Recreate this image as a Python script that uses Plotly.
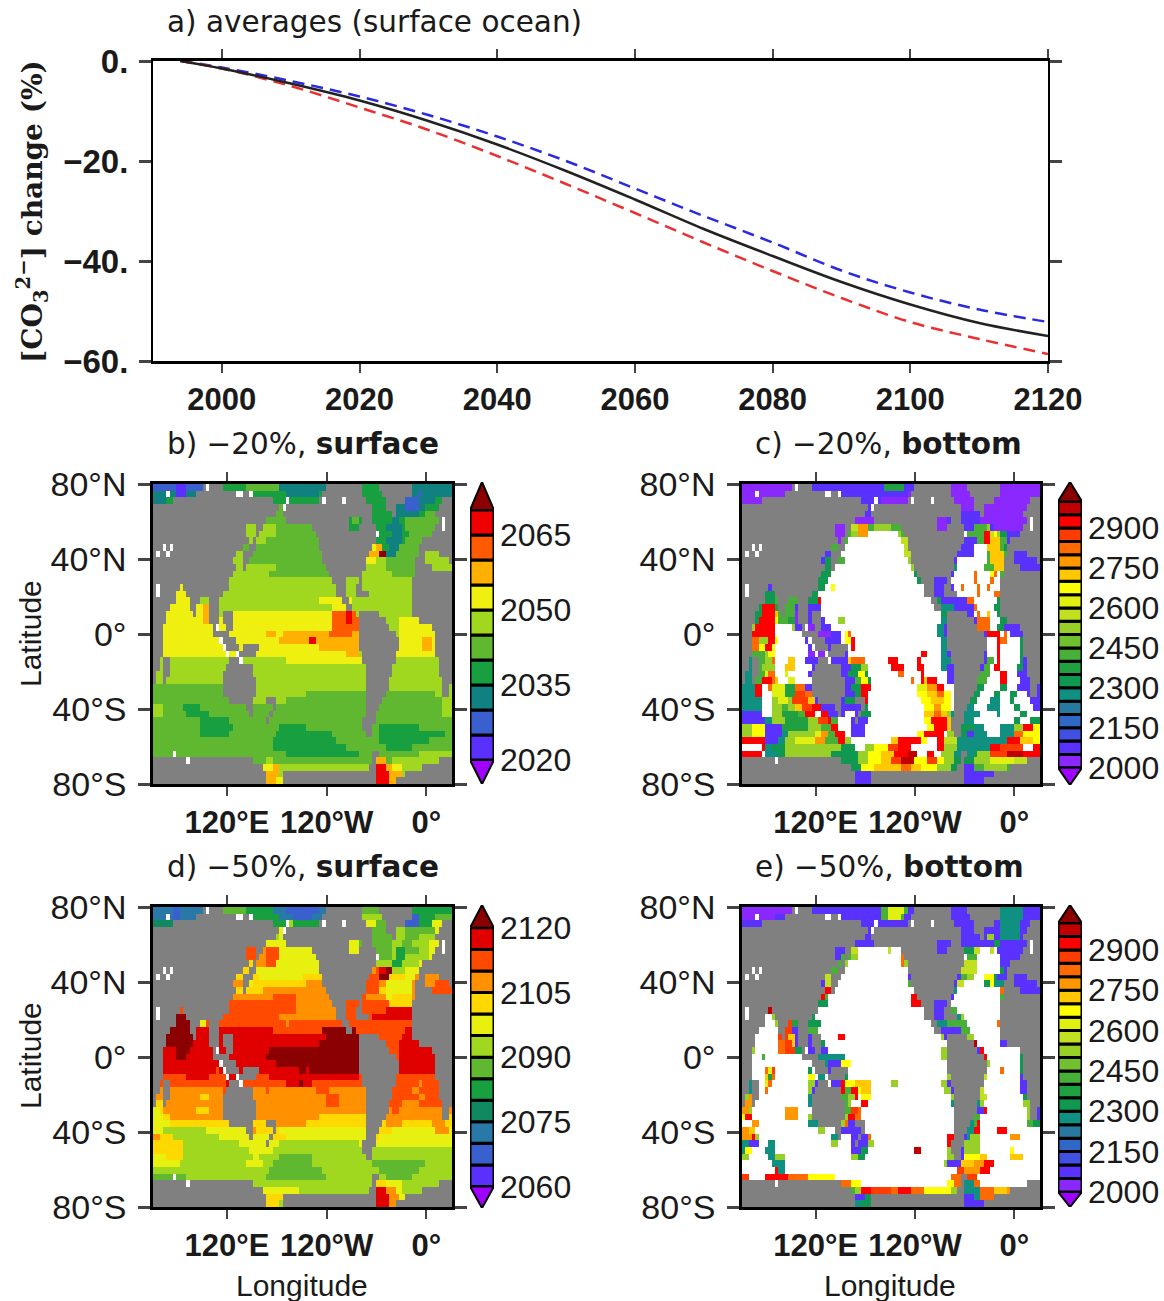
import numpy as np
import plotly.graph_objects as go

W, H = 1164, 1301

# ---------- panel a ----------
YEARS = [1994, 2000, 2010, 2020, 2030, 2040, 2050, 2060, 2070, 2080, 2090, 2100, 2110, 2120]
MEAN = [0, -1.5, -4.5, -7.9, -12.0, -16.7, -22.0, -27.7, -33.6, -39.0, -44.2, -48.7, -52.4, -55.0]
HIGH = [0, -1.3, -4.0, -7.1, -10.8, -15.1, -20.0, -25.5, -31.0, -36.3, -41.9, -46.3, -49.7, -52.2]
LOW = [0, -1.5, -5.0, -9.3, -13.8, -19.0, -24.6, -30.4, -36.3, -42.0, -47.4, -52.2, -55.6, -58.6]

# ---------- land mask: (ocean up to column, land up to column) per row, 90 columns x 45 rows ----------
LAND = [
 [(15,21),(52,63),(68,78)], [(13,29),(51,63),(69,78)], [(6,36),(50,64),(70,76),(87,90)],
 [(0,38),(40,66),(70,73),(86,90)], [(0,37),(39,66),(72,73),(85,90)], [(0,34),(40,59),(63,66),(86,90)],
 [(0,28),(31,33),(48,59),(62,67),(85,90)], [(0,28),(31,32),(49,68),(84,90)], [(0,29),(30,31),(50,67),(81,90)],
 [(0,27),(29,31),(50,66),(80,90)], [(0,25),(27,30),(51,65),(80,82),(86,90)], [(0,24),(27,29),(51,64),(79,82),(89,90)],
 [(0,25),(27,28),(52,64),(79,84)], [(0,24),(53,63),(79,90)], [(0,23),(54,58),(62,63),(78,90)],
 [(0,8),(9,23),(55,58),(61,63),(78,90)], [(0,7),(10,21),(55,58),(61,65),(78,90)],
 [(0,7),(11,14),(17,20),(57,59),(78,90)], [(0,5),(11,13),(17,20),(58,60),(78,90)],
 [(0,4),(12,13),(17,20),(21,24),(62,68),(78,90)], [(0,4),(17,20),(21,24),(62,70),(80,90)],
 [(0,3),(18,20),(22,24),(62,71),(84,90)], [(0,3),(18,23),(62,73),(85,90)], [(0,3),(20,25),(62,74),(85,90)],
 [(0,3),(21,26),(27,32),(62,74),(85,90)], [(0,3),(26,31),(63,73),(85,90)], [(0,2),(3,5),(23,27),(63,73),(86,90)],
 [(0,2),(3,5),(22,30),(64,72),(86,90)], [(0,1),(3,5),(21,30),(64,72),(86,90)], [(0,1),(3,4),(21,31),(64,71),(87,90)],
 [(21,31),(64,71),(87,89)], [(21,31),(64,70),(87,89)], [(23,30),(34,37),(64,69)], [(28,30),(36,37),(64,68)],
 [(29,30),(35,36),(64,67)], [(34,35),(63,67)], [(63,66)], [(64,66)], [], [], [(66,68)],
 [(0,30),(66,67),(86,90)], [(0,33),(65,67),(81,90)], [(0,34),(39,67),(76,90)], [(0,34),(39,67),(73,90)],
]
SPECKS = [(0,16),(1,4),(1,25),(1,26),(1,29),(2,40),(2,51),(2,57),(3,39),(5,87),(6,87),(7,67),(9,3),(9,5),(10,1),(10,4),
          (15,1),(16,1),(21,19),(23,20),(24,21),(25,22),(25,25),(26,26),(40,6),(41,10)]

# ---------- b) -20 %, surface: level code up to column ----------
FIELD_B = [
 "b7 a10 b15 d28 e38 c52 d68 d78 c90","c7 a10 c15 e30 d40 c50 d70 c80 b81 c90","c4 d50 d65 d70 c76 b80 c85 d90",
 "e50 d72 c76 b80 c82 d86 e90","e50 d73 c80 d82 e90","e30 e40 e59 d60 e62 d66 d72 c74 d76 e90",
 "f31 f33 f37 e50 d65 d70 c75 d76 e90","f31 f37 e50 d68 d72 c75 d77 e90","f31 f34 e50 e67 d70 c75 d76 e90",
 "f27 e50 e66 g67 h69 d71 c74 e90","f29 e51 g65 h68 k70 c73 e80 f90","f29 e52 g67 f70 e79 f90",
 "f29 f37 e53 f70 e79 f90","f35 e53 f72 e79 f90","f90","g9 f90","g10 f90","g11 f20 f50 g60 f90",
 "g15 h17 f54 g60 f90","g15 h17 f23 g54 i58 j60 i61 f90","g15 h17 g54 i58 j60 i62 f74 g90","g54 i60 i62 f74 g90",
 "g34 h37 g39 h53 i60 h62 f74 g90","g38 h47 j49 h62 f73 g81 h84 g90","g50 h62 f73 g81 h84 g90","g58 h62 f73 g85 f90",
 "f40 g64 f90","f90","f90","f90","e21 f90","e21 f46 e64 e70 e85 f90","e30 f40 e87 f90","f3 e9 d14 e87 f90",
 "f3 e10 d17 e87 f90","e14 d23 e90","e14 d24 e38 d46 e68 d80 e90","e14 d23 e37 d54 e68 d88 e90","e36 d55 e68 d83 e90",
 "e36 d58 e70 d78 e90","e40 d62 e80 f90","e34 f36 e62 e66 h70 e72 f78 f90","f33 g36 h38 f66 j70 h72 g75 f90",
 "f33 h38 f66 j71 h75 f90","f33 g34 h37 g39 g66 j71 h73 f90",
]

# ---------- d) -50 %, surface ----------
FIELD_D = [
 "c6 b8 c15 f28 e36 c40 b50 c52 f68 g78 e90","c6 b8 c15 f30 e38 c42 b48 c52 g70 f78 b80 e85 f90",
 "d6 e40 g42 e50 g64 h67 f72 g76 b80 e84 h88 h90","g38 h42 g60 f70 f72 g76 f85 h90","g38 h42 g59 h62 g64 f73 g76 f80 g85 h90",
 "h35 h42 h59 h62 f72 g75 f78 g83 h90","k31 j34 k38 h48 h62 f72 g73 e76 f80 g83 h90","k31 j34 k38 h50 h59 f72 g73 e76 g83 h90",
 "i31 j34 k37 h50 h67 g72 e75 g80 h90","i30 h50 j67 k68 l70 m72 g76 h90","i27 i32 h45 i52 j65 k68 m71 i76 h79 j88 k90",
 "j27 h30 i46 j52 j64 k68 j70 h72 h78 j85 k90","j25 i33 j47 j52 k68 i70 h78 j83 k90","j36 k43 j53 k64 j70 h72 i78 j90",
 "k43 j58 k64 k71 i78 j90","k43 j58 k70 l78 j90","m10 l20 k38 j55 k61 k66 l78 j90","l7 m11 k13 h16 k20 k40 j41 k60 k66 k78 j90",
 "l5 m11 l20 l36 k51 m61 k63 k76 l80 k90","k3 m12 l20 l52 m62 k70 k75 l84 j90","k3 m12 l20 l50 m62 k70 k74 l84 k88 j90",
 "k3 l7 m11 l22 l35 m62 k70 k74 l84 l88 j90","k3 l7 m10 l24 l34 m62 k74 l86 m87 j90","k3 l25 l37 m62 k74 l85 m87 j90",
 "k3 l19 k20 l24 l31 k32 l44 m46 l47 m62 k74 l85 m86 j90","k10 l17 k22 l27 k32 k35 l40 l62 k90",
 "k22 l26 k33 k40 l44 m45 l48 k52 k62 k64 k80 j81 k90","j21 k23 j34 k35 j49 k53 j64 k78 j80 k88 j90",
 "i1 j14 i17 j21 j34 j52 k56 j64 k80 j82 k88 j90","h1 i3 j21 j52 k56 j64 k75 j80 k88 j90","h2 i3 j13 i17 j21 j64 j72 k74 j90",
 "h3 i5 j21 i30 j50 i64 i70 j87 i90","h5 i23 h30 i37 j46 i64 i70 j75 i84 j88 i90","h3 g16 h30 j31 i38 h64 h68 i72 h85 j89 h90",
 "j2 i6 g16 g20 h35 i40 h66 i68 h90","i9 g26 h38 g62 h66 h90","i9 g29 h36 g90","h4 i9 g30 h32 g38 f48 g90",
 "h8 g28 h33 g36 f48 g66 f82 g90","g35 f51 g68 f80 g90","f10 g34 f52 g70 f78 g90","g35 g66 i70 h75 g90",
 "g33 h44 g66 l70 j73 h75 g84 h90","h34 i42 h66 l71 j74 h78 h90","h34 i38 g66 l71 j73 h90",
]

# ---------- c) -20 %, bottom ('.' = above the data range, white) ----------
FIELD_C = [
 "a15 b43 h49 b52 a78 a90","a14 b50 a90","a7 b42 a50 a90","a7 b40 b66 a72 b73 a90","b39 a59 a66 b72 a90","a40 a62 b72 a90",
 "a31 i33 l35 p38 i40 k45 i49 f50 a66 b70 i74 k75 b76 a90","a32 i33 k35 p38 .47 k48 i50 b68 i73 s75 l76 n77 k78 g80 b85 a90",
 "a30 i32 .48 l50 b67 b71 i73 s75 o78 i80 b82 a90","b27 i30 .49 l50 b66 b70 .74 o78 i79 g80 a90","b27 i30 .49 l51 b66 b70 .74 i75 o79 i80 b90",
 "b25 g29 i31 .50 k52 b65 .74 i75 o79 f80 b90","b24 g28 .51 k52 g53 f65 .73 i76 o79 f80 b90",
 "b23 g27 .52 g54 b64 .70 q71 .75 n76 q77 .78 i79 g80 b90","b23 g26 .53 g55 a58 b63 .70 q71 .75 q76 .78 i80 a90",
 "b9 g10 b22 g25 .27 n28 .55 g56 b60 b64 .66 q67 .71 q72 .74 q75 .78 i79 g80 a90","g11 g22 g23 .55 g57 b64 .67 .71 q72 .76 q78 g90",
 "g8 g10 i12 i14 i17 b20 g23 s24 .59 g60 b68 q70 .77 q77 g78 b90","g6 s10 h12 i16 b24 .59 g60 f64 b70 q71 .74 q74 .76 g78 b80 a90",
 "g6 s10 o11 i13 i16 a18 b22 .60 g62 b70 .71 q72 .74 o75 .77 q77 g78 b80 a90",
 "g5 s10 n11 i14 h16 a20 b25 .29 k31 .60 f62 b71 q75 .78 g80 a90","k4 s10 .15 k16 b19 a24 b27 .59 f61 b70 q75 .77 g79 b90",
 "f3 s10 .15 .19 b23 a27 b30 .31 n32 q33 .59 f61 b74 s78 .79 q80 .81 b90","f3 q5 k8 s10 n11 .19 b30 .31 n33 s34 .60 f62 b74 .77 s78 q80 .84 g85 b90",
 "f3 q5 n7 s9 n10 .20 b30 .33 s34 .60 f62 b74 .77 s78 .84 g85 b90","f3 i7 k8 n10 .20 a30 b32 .54 s56 .60 f62 b74 .77 s78 .84 g85 b90",
 "f3 i7 k9 q10 .14 o16 .19 b32 o33 q37 .44 s47 .53 s54 .60 f63 b74 i76 .77 s78 .84 g85 b90",
 "f3 i6 k10 .13 o16 .21 b33 g36 k38 .45 s49 .53 s55 .60 f62 b73 i75 .76 s78 .83 g85 b90",
 "f3 i7 m8 q10 .13 m14 .20 b32 g35 n37 g38 .47 q49 .54 s55 .62 b72 i75 .78 s80 .83 b90",
 "f3 i6 s9 q10 o11 .14 m16 .21 b34 i36 n38 g39 .51 q52 .54 s55 o56 s59 .62 b70 i74 .78 s80 .84 b90",
 "f4 s6 .8 q9 m13 h16 q19 b33 g36 s39 .53 m56 p59 s61 .64 b70 g73 .78 g80 .83 b90",
 "f4 s6 .9 m13 h16 r19 q21 b34 g36 s38 .53 n56 o59 q61 n63 .64 b68 g72 .76 g78 .81 g83 .86 b90",
 "f6 .9 k11 m14 k15 r20 o22 b31 g36 s38 .54 n57 o61 n63 .64 b68 g71 .75 f78 .81 g82 .87 b90",
 "f6 .9 k12 i14 k16 o18 r21 s24 b36 g38 .55 n58 p60 n63 .64 g68 f70 .74 f78 .82 g84 .88 b90",
 "b6 .9 k12 h17 i19 s22 .24 s26 b31 .34 b36 g39 .55 o58 q60 o62 k63 f72 .77 f78 .84 g86 .90",
 "b7 f9 k13 h20 k23 r26 s27 i29 .33 b38 .55 n57 s62 o63 i64 f70 .82 g84 .87 g90",
 "k3 n7 b12 h20 k24 i27 s29 .33 b37 .56 n58 s62 o64 k66 g70 f73 .78 f82 k85 s88 n90",
 "k3 n7 b12 f14 k18 k22 m24 p26 i28 s31 .33 b37 .53 n55 s61 .62 k65 g68 b70 f74 .78 f82 q85 n90",
 "s7 b11 f13 k16 m22 p25 i29 s31 k33 .45 o47 s54 n56 .59 s61 l65 f80 s84 o88 n90",
 ".6 s7 f9 g13 k27 k30 g34 .37 k40 n44 r47 s51 .56 .59 s61 k65 f75 s78 r85 .88 s90",
 "s7 f11 g13 k27 g35 k38 n42 o46 s50 t53 .56 s58 .60 k64 f70 g71 k75 r80 t85 s90",
 "i30 g35 k38 n42 o45 r48 t52 n56 r59 n61 k64 g70 k75 m82 l90","g36 n40 o48 q51 o54 n59 k63 g66 b70 i73 k80 i90","b90","b90",
]

# ---------- e) -50 %, bottom ----------
FIELD_E = [
 "a15 b42 i44 m49 i50 b78 f85 b90","a10 b42 i44 m48 i49 b78 f85 b90","b78 f84 b90","b78 f84 b90","b74 k76 b78 f84 b90","b76 g78 b90",
 "b32 i33 l35 .44 l45 .48 k49 b66 g70 l72 .75 l76 .77 b90","b30 i33 k35 .48 q49 .50 b66 i71 .78 b90","i30 k32 .48 q49 k50 b67 l71 .78 b90",
 "b27 i30 .50 q51 b66 l71 .78 g79 b90","b25 l27 s29 .50 b66 i68 k70 .73 n76 g77 b90","b25 l27 s29 .50 i52 b65 l67 .73 g75 n76 f79 b90",
 "b24 s27 .52 g53 f65 .78 q79 b90","b23 s25 i26 .51 s53 b64 .78 i79 b90","b23 g26 .51 s54 b63 .78 i80 b90",
 "t9 i23 .55 q56 b63 i65 .78 q79 b90",".9 k14 g22 .56 q57 b61 f66 k67 .78 k79 b90",".10 k13 r15 h17 b20 g24 .58 f62 i68 .77 q78 b90",
 ".11 r15 b20 i23 .59 b66 i69 .78 q79 b90",".11 r14 o16 b21 g23 .29 s31 .60 k61 b64 f68 k70 .78 q79 b90",
 ".11 q13 r15 o16 b21 g25 .62 k65 b70 t71 .78 b90","k4 .11 q13 r16 g20 b26 .60 k64 b72 s73 .84 g85 b90",
 "k3 .6 i7 .20 g22 f27 f31 .60 k63 b72 s74 .84 g86 b90","k3 .20 g22 f26 b30 n33 .62 k64 b73 k75 .84 g86 b90",
 "k3 .7 q8 m9 r10 .20 g22 f26 b31 .62 k64 b72 i74 .78 q79 .84 g86 b90","k3 .7 o8 h9 q10 .20 n22 f26 b31 g32 .62 k65 b72 l74 .84 b90",
 "f3 l4 .7 m8 q9 .20 k22 b30 s31 n34 o39 .45 k47 .60 k62 b71 l73 .84 b90","f3 k4 .7 q8 .20 k21 b30 s31 i33 s35 n36 o39 .61 k63 b71 l73 .84 b90",
 "k2 p3 i4 .20 f24 b30 i32 k34 s35 .36 n39 .63 k65 b72 l74 .85 g87 b90","l1 p3 .20 f24 b30 i32 k33 .36 s38 .63 f72 k73 .85 k88 b90",
 "p2 k3 .13 p17 .21 f31 i33 r35 q36 .64 k71 b73 s74 .86 k88 b90","n1 s3 .13 p17 .20 k21 f31 k32 s34 q36 .64 k69 i72 .86 k89 b90",
 ".3 p5 .20 f23 b27 f30 k31 q32 b35 q37 .64 f70 i71 s72 .86 i88 g90","p2 o4 .23 k25 .28 k29 b36 q37 .64 f70 s72 .77 s80 .90",
 "p3 s4 k5 .8 .27 f30 .33 b38 q39 .62 s64 b68 f69 k72 .81 p84 .90","f2 b5 .8 f10 .27 k29 .33 b38 k40 .62 s63 b67 k72 .90",
 "f1 n3 .7 f10 .33 b36 g38 .52 t54 .62 k63 b67 k72 .81 n82 .90","k2 .8 f10 k13 .33 k35 g37 .62 k66 b67 n72 o74 .81 o85 .90",
 ".9 f13 .61 k62 b66 o70 p73 s76 .90",".10 s11 f13 .65 r67 p72 s75 .90","r2 .7 s14 q20 n28 .30 .63 q66 f68 r71 .76 .90",
 "q33 n36 .62 n64 q66 f70 q72 .88 q90","i34 k36 s39 r45 q47 s51 q55 n63 k65 q66 f72 q76 o80 p90","k34 b37 g39 f67 b70 f72 q76 b90","b34 f36 g39 b90",
]

# ---------- colour levels ----------
COLORS_B = ["#a000ff","#5a30ff","#3a60d0","#108080","#18a040","#60b830","#a0d820","#f0f010","#ffb000","#ff5a00","#f00000","#8b0000"]
BASE_B, STEP_B, LABELS_B = 2020, 5, [2020, 2035, 2050, 2065]
COLORS_D = ["#a000ff","#5a30ff","#3a60d0","#2878a8","#108860","#18a040","#60b830","#a0d820","#e8f010","#ffd800","#ff9000","#ff4a00","#e00000","#8b0000"]
BASE_D, STEP_D, LABELS_D = 2060, 5, [2060, 2075, 2090, 2105, 2120]
COLORS_C = ["#a000ff","#8a28ff","#5a32ff","#4050e0","#3068c8","#2878a0","#109080","#109850","#20a040","#48b038","#70c030","#98d028",
            "#c0e020","#e0f010","#ffff00","#ffc800","#ff9800","#ff6a00","#ff3c00","#ff0000","#c00000","#8b0000"]
BASE_C, STEP_C, LABELS_C = 2000, 50, [2000, 2150, 2300, 2450, 2600, 2750, 2900]


def decode(rows, base, step):
    out = np.full((45, 90), np.nan)
    for r, row in enumerate(rows):
        start = 0
        for tok in row.split():
            end = int(tok[1:])
            if tok[0] != ".":
                out[r, start:end] = base + step * (ord(tok[0]) - 97 + 0.5)
            start = end
    return out


def land_grid():
    out = np.full((45, 90), np.nan)
    for r, row in enumerate(LAND):
        for a, b in row:
            out[r, a:b] = 1
    for r, c in SPECKS:
        out[r, c] = 0
    return out


LAND_Z = land_grid()
FONT = "Liberation Sans"
INK = "#1a1a1a"
fig = go.Figure()
layout = {}


def dom_x(a, b):
    return [a / W, b / W]


def dom_y(a, b):
    return [1 - b / H, 1 - a / H]


def axes(n, xd, yd, xopts, yopts):
    layout[f"xaxis{n}"] = dict(domain=dom_x(*xd), anchor=f"y{n}", **xopts)
    layout[f"yaxis{n}"] = dict(domain=dom_y(*yd), anchor=f"x{n}", **yopts)


bold = dict(family=FONT, size=31, color=INK, weight=700)
bold_y = dict(family=FONT, size=33, color=INK, weight=700)
reg = dict(family=FONT, size=34, color=INK)
bar = dict(family=FONT, size=32, color=INK)

# panel a
axes(1, (153, 1048), (61, 361),
     dict(range=[1990, 2120], tickvals=list(range(2000, 2121, 20)), ticktext=[str(v) for v in range(2000, 2121, 20)],
          ticks="outside", ticklen=9, tickwidth=2, showline=True, linewidth=3, linecolor="black", mirror="allticks",
          showgrid=False, zeroline=False, tickfont=bold, tickangle=0),
     dict(range=[-60, 0], tickvals=[-60, -40, -20, 0], ticktext=["−60.", "−40.", "−20.", "0."],
          ticks="outside", ticklen=12, tickwidth=3, showline=True, linewidth=2, linecolor="black", mirror="allticks",
          showgrid=False, zeroline=False, tickfont=bold_y, ticklabelstandoff=4))
for vals, color, dash in [(HIGH, "#2a2ae0", "12px,7px"), (LOW, "#ea3030", "12px,7px"), (MEAN, "#222222", "solid")]:
    fig.add_trace(go.Scatter(x=YEARS, y=vals, mode="lines", line=dict(color=color, width=2.5, dash=dash, shape="spline"),
                             xaxis="x", yaxis="y", showlegend=False))
layout["xaxis"] = layout.pop("xaxis1"); layout["yaxis"] = layout.pop("yaxis1")
layout["xaxis"]["anchor"] = "y"; layout["yaxis"]["anchor"] = "x"


def panel(n, field, base, step, colors, labels, xd, yd, bar_x, bar_y, apex, top):
    # map
    z = decode(field, base, step)
    lo, hi = base - step, base + step * (len(colors) - 1)
    cs = []
    for i, c in enumerate(colors):
        cs += [[i / len(colors), c], [(i + 1) / len(colors), c]]
    axes(n, xd, yd,
         dict(range=[31, 391], tickvals=[120, 240, 360], ticktext=["120°E", "120°W", "0°"], ticks="outside", ticklen=9, tickwidth=2,
              showline=True, linewidth=3, linecolor="black", mirror="allticks", showgrid=False, zeroline=False, tickfont=bold, tickangle=0),
         dict(range=[-80, 80], tickvals=[-80, -40, 0, 40, 80], ticktext=["80°S", "40°S", "0°", "40°N", "80°N"], ticks="outside", ticklen=12,
              tickwidth=3, showline=True, linewidth=2.5, linecolor="black", mirror="allticks", showgrid=False, zeroline=False, tickfont=reg,
              ticklabelstandoff=5))
    fig.add_trace(go.Heatmap(z=z, x0=33, dx=4, y0=80 - 160 / 90, dy=-160 / 45, zmin=lo, zmax=hi, colorscale=cs, showscale=False,
                             xaxis=f"x{n}", yaxis=f"y{n}", hoverongaps=False))
    fig.add_trace(go.Heatmap(z=LAND_Z, x0=33, dx=4, y0=80 - 160 / 90, dy=-160 / 45, zmin=0, zmax=1,
                             colorscale=[[0, "#ffffff"], [1, "#808080"]], showscale=False, xaxis=f"x{n}", yaxis=f"y{n}", hoverinfo="skip"))
    # colour bar
    m = n + 10
    n_lv = len(colors) - 2
    axes(m, bar_x, apex,
         dict(range=[-0.5, 0.5], visible=False, fixedrange=True),
         dict(range=bar_y, side="right", tickvals=labels, ticktext=[str(v) for v in labels], ticks="", showline=False, showgrid=False,
              zeroline=False, tickfont=bar, ticklabelstandoff=5))
    for i in range(n_lv):
        fig.add_trace(go.Bar(x=[0], y=[step], base=base + step * i, width=1, marker=dict(color=colors[i + 1], line=dict(color="black", width=3)),
                             xaxis=f"x{m}", yaxis=f"y{m}", showlegend=False))
    fig.add_trace(go.Scatter(x=[-0.5, 0, 0.5, -0.5], y=[base, bar_y[0], base, base], fill="toself", fillcolor=colors[0], mode="lines",
                             line=dict(color="black", width=2), xaxis=f"x{m}", yaxis=f"y{m}", showlegend=False))
    fig.add_trace(go.Scatter(x=[-0.5, 0, 0.5, -0.5], y=[top, bar_y[1], top, top], fill="toself", fillcolor=colors[-1], mode="lines",
                             line=dict(color="black", width=2), xaxis=f"x{m}", yaxis=f"y{m}", showlegend=False))


panel(2, FIELD_B, BASE_B, STEP_B, COLORS_B, LABELS_B, (153, 452), (484, 784), (470, 494), [2015.2, 2075.6], (482, 784), 2070)
panel(3, FIELD_C, BASE_C, STEP_C, COLORS_C, LABELS_C, (742, 1040), (484, 784), (1058, 1082), [1935, 3073], (482, 785), 3000)
panel(4, FIELD_D, BASE_D, STEP_D, COLORS_D, LABELS_D, (153, 452), (907, 1207), (470, 494), [2055, 2125.3], (905, 1208), 2120)
panel(5, FIELD_E, BASE_C, STEP_C, COLORS_C, LABELS_C, (742, 1040), (907, 1207), (1058, 1082), [1944, 3067], (905, 1207), 3000)

TITLES = [("a) averages (surface ocean)", 165, 22), ("b) −20%, <b>surface</b>", 165, 444), ("c) −20%, <b>bottom</b>", 753, 444),
          ("d) −50%, <b>surface</b>", 165, 867), ("e) −50%, <b>bottom</b>", 753, 867)]
ann = []
for text, x, y in TITLES:
    ann.append(dict(text=text, x=x / W, y=1 - y / H, xref="paper", yref="paper", xanchor="left", yanchor="middle", showarrow=False,
                    font=dict(family="DejaVu Sans", size=29.5, color=INK)))
for text, x, y, rot in [("Latitude", 30, 634, -90), ("Latitude", 30, 1056, -90), ("Longitude", 302, 1285, 0), ("Longitude", 890, 1285, 0)]:
    ann.append(dict(text=text, x=x / W, y=1 - y / H, xref="paper", yref="paper", xanchor="center", yanchor="middle", showarrow=False,
                    textangle=rot, font=dict(family=FONT, size=30, color=INK)))
ann.append(dict(text="<b>[CO<sub>3</sub><sup>2−</sup>] change (%)</b>", x=32 / W, y=1 - 212 / H, xref="paper", yref="paper", xanchor="center",
                yanchor="middle", showarrow=False, textangle=-90, font=dict(family="DejaVu Serif", size=28, color=INK)))

fig.update_layout(width=W, height=H, margin=dict(l=0, r=0, t=0, b=0, autoexpand=False), paper_bgcolor="white", plot_bgcolor="white",
                  barmode="overlay", showlegend=False, annotations=ann, **layout)
fig.write_html("out.html", config={"displayModeBar": False}, post_script="document.body.style.margin='0';")
